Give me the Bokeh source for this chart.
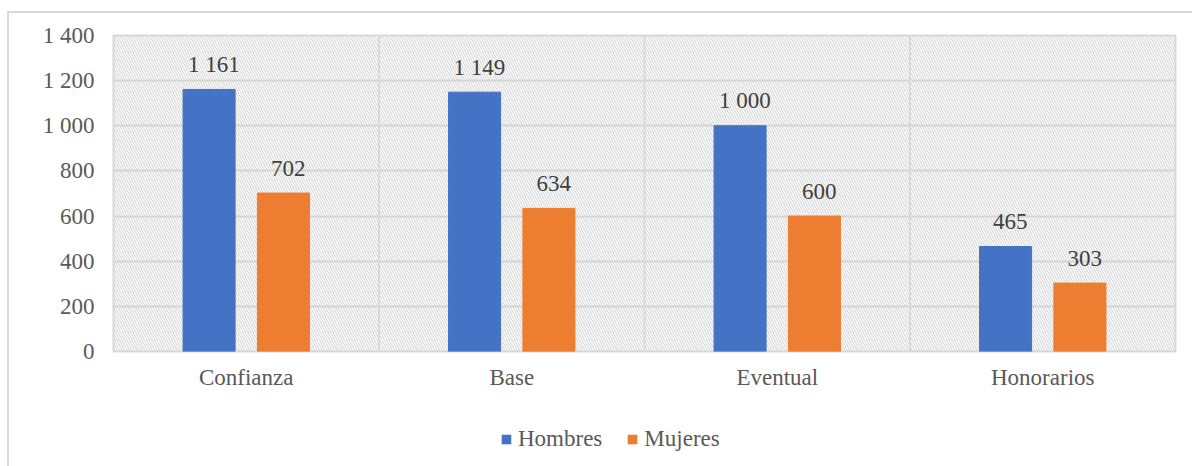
from bokeh.plotting import figure
from bokeh.layouts import column
from bokeh.models import (ColumnDataSource, FactorRange, Range1d, FixedTicker,
                          Legend, LegendItem, Span, BoxAnnotation)
from bokeh.transform import dodge
from bokeh.core.properties import value
from bokeh.embed import file_html
from bokeh.resources import INLINE

categories = ["Confianza", "Base", "Eventual", "Honorarios"]
hombres = [1161, 1149, 1000, 465]
mujeres = [702, 634, 600, 303]
y_ticks = [0, 200, 400, 600, 800, 1000, 1200, 1400]
series_names = ["Hombres", "Mujeres"]


def fmt(v):
    return f"{v:,}".replace(",", " ")


FONT = "Liberation Serif"
GRID = "#d9d9d9"
BLUE = "#4472C4"
ORANGE = "#ED7D31"
colors = [BLUE, ORANGE]

src = ColumnDataSource(dict(
    cat=categories, h=hombres, m=mujeres,
    hl=[fmt(v) for v in hombres], ml=[fmt(v) for v in mujeres],
))

p = figure(
    x_range=FactorRange(factors=categories, range_padding=0),
    y_range=Range1d(0, 1400),
    width=1183, height=383,
    output_backend="svg", toolbar_location=None,
    min_border_left=104, min_border_top=22,
    min_border_right=17, min_border_bottom=45,
)

p.background_fill_color = "white"
p.border_fill_color = "white"
p.outline_line_color = GRID
p.outline_line_width = 2

# hatched plot-area background
p.add_layout(BoxAnnotation(fill_alpha=0, line_color=None,
                           hatch_pattern="left_diagonal_line",
                           hatch_color="#cfcfcf", hatch_scale=5,
                           hatch_weight=1, level="underlay"))

p.xgrid.grid_line_color = None
p.ygrid.grid_line_color = GRID
p.ygrid.grid_line_width = 2
for i in range(1, len(categories)):
    p.add_layout(Span(location=i, dimension="height", line_color=GRID,
                      line_width=2, level="underlay"))

off = 0.14
bw = 0.196
p.vbar(x=dodge("cat", -off, range=p.x_range), top="h", width=bw,
       source=src, fill_color=BLUE, line_color=BLUE)
p.vbar(x=dodge("cat", off, range=p.x_range), top="m", width=bw,
       source=src, fill_color=ORANGE, line_color=ORANGE)

for key, lab, o in (("h", "hl", -off), ("m", "ml", off)):
    p.text(x=dodge("cat", o + 0.018, range=p.x_range), y=key, text=lab,
           source=src, y_offset=-25, text_align="center",
           text_baseline="alphabetic", text_font=value(FONT),
           text_font_size="23px", text_color="#404040")

p.yaxis.ticker = FixedTicker(ticks=y_ticks)
p.yaxis.major_label_overrides = {t: fmt(t) for t in y_ticks}
for ax in (p.xaxis, p.yaxis):
    ax.axis_line_color = None
    ax.major_tick_line_color = None
    ax.minor_tick_line_color = None
    ax.major_tick_out = 0
    ax.major_tick_in = 0
    ax.major_label_text_font = FONT
    ax.major_label_text_font_size = "23px"
    ax.major_label_text_color = "#595959"
p.yaxis.major_label_standoff = 19
p.xaxis.major_label_standoff = 13

# legend strip below the chart
p2 = figure(width=1183, height=70, output_backend="svg", toolbar_location=None,
            x_range=Range1d(0, 1), y_range=Range1d(0, 1),
            x_axis_location=None, y_axis_location=None,
            min_border=0, min_border_left=0, min_border_right=0,
            min_border_top=0, min_border_bottom=0)
p2.outline_line_color = None
p2.grid.grid_line_color = None
# zero-size proxy bars so that the legend can show the series swatches
proxies = [p2.vbar(x=[0], top=[0], width=0, fill_color=c, line_color=None)
           for c in colors]

legend = Legend(
    items=[LegendItem(label=n, renderers=[r]) for n, r in zip(series_names, proxies)],
    orientation="horizontal", location=(387, 14),
    glyph_width=12, glyph_height=12, label_standoff=6, spacing=24,
    padding=0, margin=0, border_line_color=None, background_fill_alpha=0,
    label_text_font=FONT, label_text_font_size="23px",
    label_text_color="#595959",
)
p2.add_layout(legend, "center")

layout = column(p, p2, spacing=0, styles={
    "margin-left": "7px", "margin-top": "11px",
    "border-left": f"2px solid {GRID}", "border-top": f"2px solid {GRID}",
})

open("out.html", "w").write(file_html(layout, INLINE))
